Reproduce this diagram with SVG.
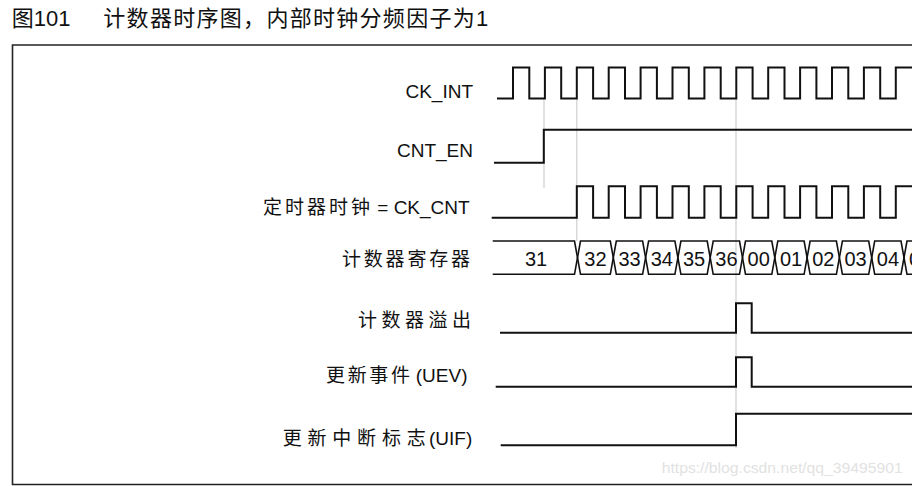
<svg xmlns="http://www.w3.org/2000/svg" width="912" height="486" viewBox="0 0 912 486">
<style>
.t{font-family:"Liberation Sans","Noto Sans CJK SC",Arial,sans-serif;fill:#111;}
.lbl{font-size:19px;}
.title{font-size:22px;}
.val{font-size:20px;text-anchor:middle;}
.w{fill:none;stroke:#111;stroke-width:2;stroke-linejoin:miter;}
.g{stroke:#cfcfcf;stroke-width:1.2;fill:none;}
.wm{font-family:"Liberation Sans",Arial,sans-serif;font-size:15.5px;fill:#e2e2e2;}
</style>
<rect width="912" height="486" fill="#fff"/>
<g id="title">
<text class="t title" x="11.7" y="26">图101</text>
<text class="t title" x="103.3" y="26" textLength="385" lengthAdjust="spacing">计数器时序图，内部时钟分频因子为1</text>
</g>
<path id="frame" d="M920,45 H12.5 V484.5 H920" fill="none" stroke="#222" stroke-width="1.6"/>
<g id="connectors">
<line class="g" x1="544" y1="98" x2="544" y2="188"/>
<line class="g" x1="576.8" y1="98" x2="576.8" y2="241"/>
<line class="g" x1="736" y1="98" x2="736" y2="448"/>
</g>
<g id="ck_int">
<text class="t lbl" x="473" y="97.5" text-anchor="end">CK_INT</text>
<path class="w" d="M497,98.5 H513 V67.5 H529.3 V98.5 H544.9 V67.5 H561.2 V98.5 H576.8 V67.5 H593.1 V98.5 H608.7 V67.5 H625 V98.5 H640.6 V67.5 H656.9 V98.5 H672.5 V67.5 H688.8 V98.5 H704.4 V67.5 H720.7 V98.5 H736.3 V67.5 H752.6 V98.5 H768.2 V67.5 H784.5 V98.5 H800.1 V67.5 H816.4 V98.5 H832 V67.5 H848.3 V98.5 H863.9 V67.5 H880.2 V98.5 H895.8 V67.5 H916"/>
</g>
<g id="cnt_en">
<text class="t lbl" x="473" y="157" text-anchor="end">CNT_EN</text>
<path class="w" d="M494,162.7 H543.8 V129.7 H916"/>
</g>
<g id="ck_cnt">
<text class="t lbl" y="214"><tspan x="263" textLength="107" lengthAdjust="spacing">定时器时钟</tspan><tspan x="372"> = CK_CNT</tspan></text>
<path class="w" d="M491.7,217.7 H576.8 V186.3 H593.1 V217.7 H608.7 V186.3 H625 V217.7 H640.6 V186.3 H656.9 V217.7 H672.5 V186.3 H688.8 V217.7 H704.4 V186.3 H720.7 V217.7 H736.3 V186.3 H752.6 V217.7 H768.2 V186.3 H784.5 V217.7 H800.1 V186.3 H816.4 V217.7 H832 V186.3 H848.3 V217.7 H863.9 V186.3 H880.2 V217.7 H895.8 V186.3 H916"/>
</g>
<g id="counter_register">
<text class="t lbl" x="342" y="266" textLength="128" lengthAdjust="spacing">计数器寄存器</text>
<g stroke="#111" stroke-width="1.6" fill="none" stroke-linejoin="miter">
<path d="M492.7,241 H574.5 L577.5,257.7 L574.5,274.3 H492.7"/>
<path d="M577.5,257.7 L580.5,241 H610.3 L613.3,257.7 L610.3,274.3 H580.5 Z"/>
<path d="M613.3,257.7 L616.3,241 H642.6 L645.6,257.7 L642.6,274.3 H616.3 Z"/>
<path d="M645.6,257.7 L648.6,241 H674.9 L677.9,257.7 L674.9,274.3 H648.6 Z"/>
<path d="M677.9,257.7 L680.9,241 H707.2 L710.2,257.7 L707.2,274.3 H680.9 Z"/>
<path d="M710.2,257.7 L713.2,241 H739.5 L742.5,257.7 L739.5,274.3 H713.2 Z"/>
<path d="M742.5,257.7 L745.5,241 H771.8 L774.8,257.7 L771.8,274.3 H745.5 Z"/>
<path d="M774.8,257.7 L777.8,241 H804.1 L807.1,257.7 L804.1,274.3 H777.8 Z"/>
<path d="M807.1,257.7 L810.1,241 H836.4 L839.4,257.7 L836.4,274.3 H810.1 Z"/>
<path d="M839.4,257.7 L842.4,241 H868.7 L871.7,257.7 L868.7,274.3 H842.4 Z"/>
<path d="M871.7,257.7 L874.7,241 H901 L904,257.7 L901,274.3 H874.7 Z"/>
<path d="M904,257.7 L907,241 H933.3 L936.3,257.7 L933.3,274.3 H907 Z"/>
</g>
<text class="t val" x="536" y="266">31</text>
<text class="t val" x="595.4" y="266">32</text>
<text class="t val" x="629.5" y="266">33</text>
<text class="t val" x="661.8" y="266">34</text>
<text class="t val" x="694.1" y="266">35</text>
<text class="t val" x="726.4" y="266">36</text>
<text class="t val" x="758.7" y="266">00</text>
<text class="t val" x="791" y="266">01</text>
<text class="t val" x="823.3" y="266">02</text>
<text class="t val" x="855.6" y="266">03</text>
<text class="t val" x="887.9" y="266">04</text>
<text class="t val" x="920.2" y="266">05</text>
</g>
<g id="overflow">
<text class="t lbl" x="358" y="327" textLength="113" lengthAdjust="spacing">计数器溢出</text>
<path class="w" d="M500,332.7 H736 V303.3 H751.7 V332.7 H916"/>
</g>
<g id="uev">
<text class="t lbl" y="381.5"><tspan x="326" textLength="84" lengthAdjust="spacing">更新事件</tspan><tspan x="410.5"> (UEV)</tspan></text>
<path class="w" d="M495.7,386.7 H736 V357.3 H751.7 V386.7 H916"/>
</g>
<g id="uif">
<text class="t lbl" y="445"><tspan x="282.7" textLength="143" lengthAdjust="spacing">更新中断标志</tspan><tspan x="429">(UIF)</tspan></text>
<path class="w" d="M500.7,445.3 H736 V413.7 H916"/>
</g>
<text class="wm" x="661.7" y="472.7" textLength="241" lengthAdjust="spacingAndGlyphs">https://blog.csdn.net/qq_39495901</text>
</svg>
